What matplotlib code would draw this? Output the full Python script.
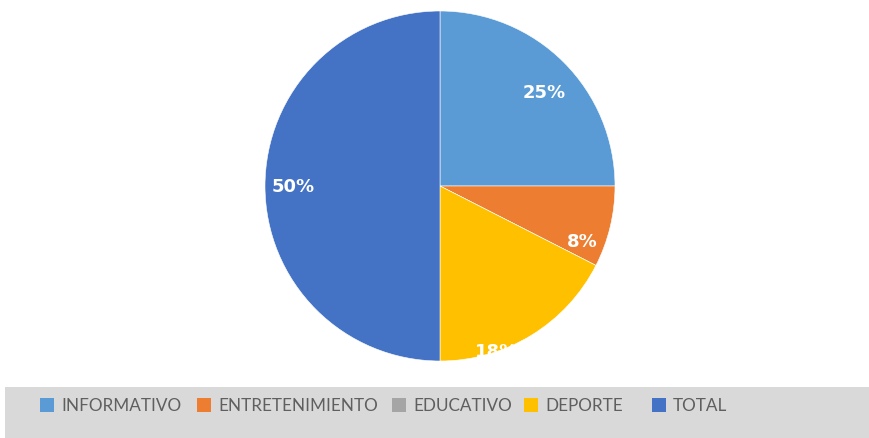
import numpy as np
import matplotlib.pyplot as plt
from matplotlib.patches import Rectangle

# Share of programming by category (percent)
categories = ["INFORMATIVO", "ENTRETENIMIENTO", "EDUCATIVO", "DEPORTE", "TOTAL"]
shares = [25, 7.5, 0, 17.5, 50]
colors = ["#5B9BD5", "#ED7D31", "#A5A5A5", "#FFC000", "#4472C4"]

# Where each percentage label sits: (angle in degrees, radius fraction)
label_spots = {"INFORMATIVO": (42, 0.80), "ENTRETENIMIENTO": (-21, 0.87),
               "DEPORTE": (-71, 1.0), "TOTAL": (180, 0.84)}

# Left edge of each legend key, in pixels
legend_x = [40, 197, 392, 524, 652]

W, H = 870, 439
fig = plt.figure(figsize=(W / 100, H / 100), dpi=100)
fig.patch.set_facecolor("white")

# Grey band behind the legend
fig.patches.append(Rectangle((5 / W, 0), 1, 51 / H, transform=fig.transFigure,
                             facecolor="#D9D9D9", edgecolor="none", zorder=0))

ax = fig.add_axes([265 / W, 77 / H, 350 / W, 350 / H])
wedges, _ = ax.pie(shares, colors=colors, startangle=90, counterclock=False,
                   radius=1.0, wedgeprops=dict(edgecolor="white", linewidth=0.4))
ax.set_xlim(-1, 1)
ax.set_ylim(-1, 1)
ax.set_aspect("equal")

for name, val in zip(categories, shares):
    if val == 0:
        continue
    ang, r = label_spots[name]
    x = r * np.cos(np.radians(ang))
    y = r * np.sin(np.radians(ang))
    ax.text(x, y, f"{val:.0f}%", color="white", fontsize=13, fontweight="bold",
            ha="center", va="center")

# Legend: coloured key plus label for each category
key_y = H - 406
for name, col, px in zip(categories, colors, legend_x):
    fig.patches.append(Rectangle((px / W, (key_y - 7) / H), 14 / W, 14 / H,
                                 transform=fig.transFigure, facecolor=col,
                                 edgecolor="none"))
    fig.text((px + 21) / W, key_y / H, name, ha="left", va="center",
             family=["Lato", "DejaVu Sans"], fontsize=12.3, color="#5F5F5F")

fig.savefig("out.png", dpi=100)
